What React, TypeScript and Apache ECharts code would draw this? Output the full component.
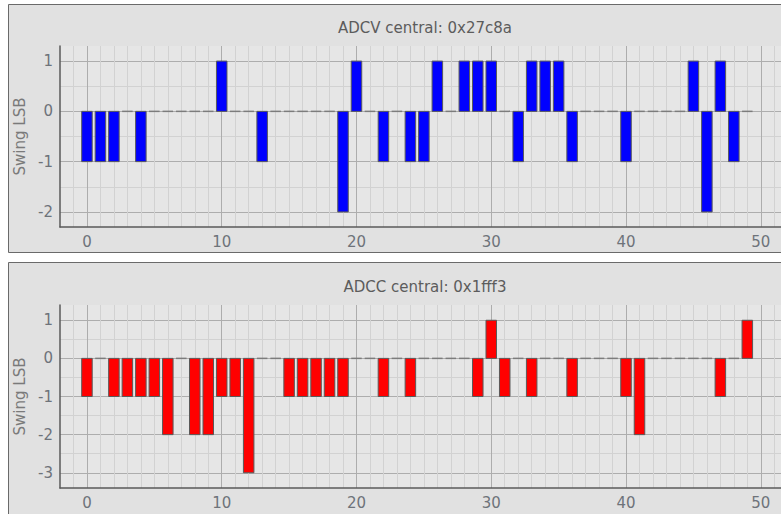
import React, { useEffect, useRef } from "react";
import * as echarts from "echarts";

// ---- data ----
const X_INDEX: number[] = Array.from({ length: 50 }, (_, i) => i);
const ADCV_VALUES: number[] = [
  -1, -1, -1, 0, -1, 0, 0, 0, 0, 0,
  1, 0, 0, -1, 0, 0, 0, 0, 0, -2,
  1, 0, -1, 0, -1, -1, 1, 0, 1, 1,
  1, 0, -1, 1, 1, 1, -1, 0, 0, 0,
  -1, 0, 0, 0, 0, 1, -2, 1, -1, 0,
];
const ADCC_VALUES: number[] = [
  -1, 0, -1, -1, -1, -1, -2, 0, -2, -2,
  -1, -1, -3, 0, 0, -1, -1, -1, -1, -1,
  0, 0, -1, 0, -1, 0, 0, 0, 0, -1,
  1, -1, 0, -1, 0, 0, -1, 0, 0, 0,
  -1, -2, 0, 0, 0, 0, 0, -1, 0, 1,
];
const TITLE_TOP = "ADCV central: 0x27c8a";
const TITLE_BOTTOM = "ADCC central: 0x1fff3";
const Y_NAME = "Swing LSB";
const X_TICKS: number[] = [0, 10, 20, 30, 40, 50];
const Y_TICKS_TOP: number[] = [-2, -1, 0, 1];
const Y_TICKS_BOTTOM: number[] = [-3, -2, -1, 0, 1];

// grid lines (major + half-step minor) derived from tick lists
const halfSteps = (ticks: number[]) => {
  const out: number[] = [];
  ticks.forEach((t, i) => {
    out.push(t);
    if (i < ticks.length - 1) out.push(t + 0.5);
  });
  return out;
};
const X_GRID: number[] = Array.from({ length: 53 }, (_, i) => i - 1);

const BAR_W = 0.78;
const MAJOR = "#adadad";
const MINOR = "#d2d2d2";
const LABEL = "#6e737a";
const FONT = "DejaVu Sans";

function makeSeries(values: number[], color: string, idx: number) {
  return {
    type: "custom",
    xAxisIndex: idx,
    yAxisIndex: idx,
    clip: true,
    data: X_INDEX.map((x, i) => [x, values[i]]),
    renderItem: (_p: any, api: any) => {
      const x = api.value(0);
      const v = api.value(1);
      const p0 = api.coord([x - BAR_W / 2, 0]);
      const p1 = api.coord([x + BAR_W / 2, v]);
      if (v === 0) {
        return {
          type: "line",
          shape: { x1: p0[0], y1: p0[1], x2: p1[0], y2: p0[1] },
          style: { stroke: "#7c7c7c", lineWidth: 1.5 },
        };
      }
      return {
        type: "rect",
        shape: {
          x: p0[0],
          y: Math.min(p0[1], p1[1]),
          width: p1[0] - p0[0],
          height: Math.abs(p1[1] - p0[1]),
        },
        style: { fill: color, stroke: "#5a5a5a", lineWidth: 1 },
      };
    },
  };
}

function xAxis(gridIndex: number) {
  const colors = X_GRID.slice(0, 10).map((v) => (v % 10 === 0 ? MAJOR : MINOR));
  return {
    type: "value",
    gridIndex,
    min: -2,
    max: 51.5,
    axisLine: { show: true, onZero: false, lineStyle: { color: "#5a5a5a", width: 1.5 } },
    axisTick: { show: false, customValues: X_GRID },
    axisLabel: {
      customValues: X_TICKS,
      color: LABEL,
      fontSize: 15,
      fontFamily: FONT,
      margin: 7,
    },
    splitLine: { show: true, lineStyle: { color: colors, width: 1 } },
  };
}

function yAxis(gridIndex: number, min: number, max: number, ticks: number[]) {
  return {
    type: "value",
    gridIndex,
    min,
    max,
    name: Y_NAME,
    nameLocation: "middle",
    nameGap: 30,
    nameTextStyle: { color: "#7a7a7a", fontSize: 15, fontFamily: FONT },
    axisLine: { show: true, onZero: false, lineStyle: { color: "#5a5a5a", width: 1.5 } },
    axisTick: { show: false, customValues: halfSteps(ticks) },
    axisLabel: {
      customValues: ticks,
      color: LABEL,
      fontSize: 15,
      fontFamily: FONT,
      margin: 7,
    },
    splitLine: { show: true, lineStyle: { color: [MAJOR, MINOR], width: 1 } },
  };
}

export default function App() {
  const ref = useRef<HTMLDivElement>(null);
  useEffect(() => {
    if (!ref.current) return;
    const chart = echarts.init(ref.current, null, { renderer: "svg" });
    chart.setOption({
      animation: false,
      backgroundColor: "#ffffff",
      graphic: [
        {
          type: "rect",
          z: -10,
          shape: { x: 8.5, y: 4.5, width: 800, height: 248 },
          style: { fill: "#e1e1e1", stroke: "#6a6a6a", lineWidth: 1 },
        },
        {
          type: "rect",
          z: -10,
          shape: { x: 8.5, y: 262.5, width: 800, height: 270 },
          style: { fill: "#e1e1e1", stroke: "#6a6a6a", lineWidth: 1 },
        },
        {
          type: "text",
          x: 425,
          y: 28,
          style: {
            text: TITLE_TOP,
            fill: "#5c5c5c",
            fontSize: 15,
            fontFamily: FONT,
            align: "center",
            verticalAlign: "middle",
          },
        },
        {
          type: "text",
          x: 425,
          y: 287,
          style: {
            text: TITLE_BOTTOM,
            fill: "#5c5c5c",
            fontSize: 15,
            fontFamily: FONT,
            align: "center",
            verticalAlign: "middle",
          },
        },
      ],
      grid: [
        { left: 60, top: 46, width: 722, height: 181, show: true, backgroundColor: "#e6e6e6", borderWidth: 0 },
        { left: 60, top: 305, width: 722, height: 183, show: true, backgroundColor: "#e6e6e6", borderWidth: 0 },
      ],
      xAxis: [xAxis(0), xAxis(1)],
      yAxis: [yAxis(0, -2.3, 1.3, Y_TICKS_TOP), yAxis(1, -3.4, 1.4, Y_TICKS_BOTTOM)],
      series: [makeSeries(ADCV_VALUES, "#0000ff", 0), makeSeries(ADCC_VALUES, "#ff0000", 1)],
    });
    return () => chart.dispose();
  }, []);
  return (
    <div
      ref={ref}
      style={{ position: "fixed", left: 0, top: 0, width: 781, height: 514 }}
    />
  );
}
